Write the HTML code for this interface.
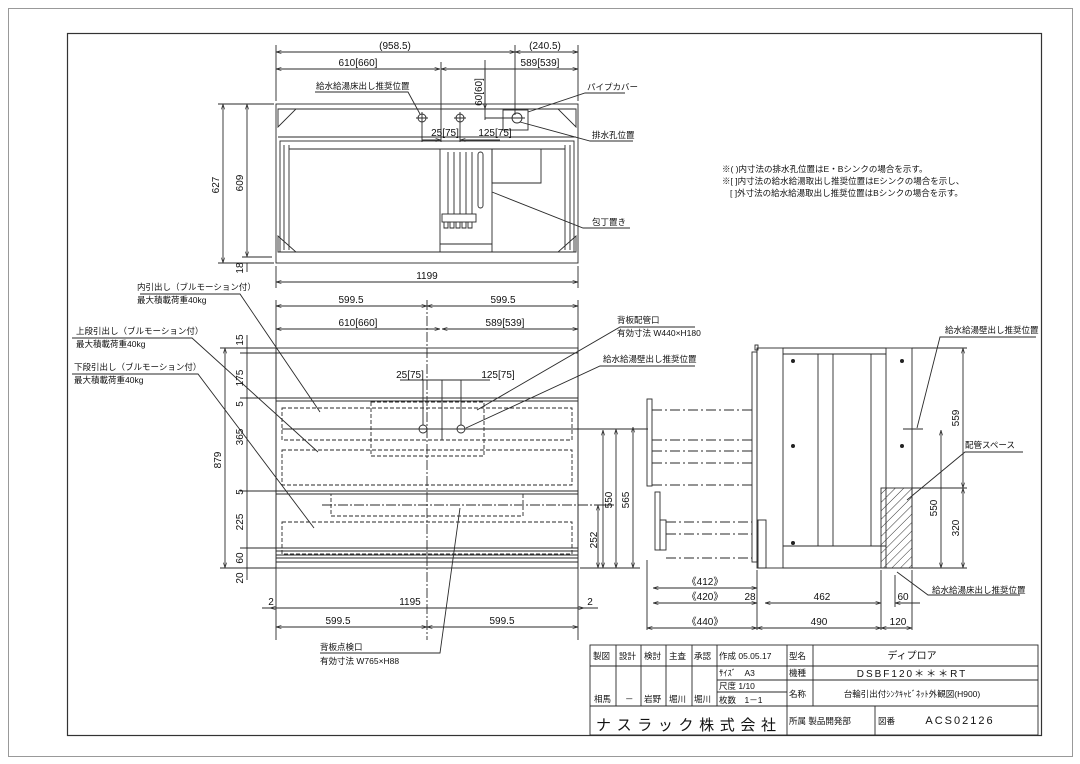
<!DOCTYPE html>
<html><head><meta charset="utf-8"><style>
html,body{margin:0;padding:0;background:#fff;}
svg{display:block;}
text{font-family:"Liberation Sans","Noto Sans CJK JP",sans-serif;fill:#111;}
.d{font-size:10px;}
.j{font-size:8.5px;}
</style></head><body>
<svg width="1080" height="764" viewBox="0 0 1080 764" xmlns="http://www.w3.org/2000/svg">
<defs>
<marker id="a" viewBox="0 0 10 10" refX="10" refY="5" markerWidth="6" markerHeight="6" orient="auto-start-reverse"><path d="M0,2 L10,5 L0,8" fill="none" stroke="#333" stroke-width="1.2"/></marker>
<pattern id="h" width="6" height="6" patternUnits="userSpaceOnUse" patternTransform="rotate(45)"><line x1="0" y1="0" x2="0" y2="6" stroke="#333" stroke-width="1"/></pattern>
</defs>
<rect x="8.5" y="8.5" width="1064" height="748" fill="none" stroke="#999" stroke-width="1"/>
<rect x="67.5" y="33.5" width="974" height="702" fill="none" stroke="#333" stroke-width="1.2"/>

<g stroke="#2a2a2a" stroke-width="0.9" fill="none">
<!-- TOP VIEW -->
<rect x="276" y="104" width="302" height="159"/>
<line x1="278" y1="109" x2="576" y2="109"/>
<line x1="278" y1="137" x2="576" y2="137"/>
<line x1="278" y1="252" x2="576" y2="252"/>
<rect x="280" y="141" width="294" height="111"/>
<line x1="289" y1="149" x2="565" y2="149"/>
<line x1="284" y1="145" x2="284" y2="250"/><line x1="289" y1="145" x2="289" y2="250"/>
<line x1="570" y1="145" x2="570" y2="250"/><line x1="565" y1="145" x2="565" y2="250"/>
<path d="M278,109 L296,109 L278,127 Z M576,109 L558,109 L576,127 Z M278,252 L296,252 L278,236 Z M576,252 L558,252 L576,236 Z"/>
<rect x="440" y="149" width="52" height="103"/>
<line x1="440" y1="244" x2="492" y2="244"/>
<path d="M492,149 L492,183 L541,183 L541,149"/>
<path d="M448,152 v62 M454,152 v62 M460,152 v62 M466,152 v62 M472,152 v62"/>
<rect x="478" y="152" width="5" height="56" rx="2.5"/>
<rect x="442" y="214" width="34" height="8"/>
<path d="M444,222 v6 h4 v-6 M450,222 v6 h4 v-6 M456,222 v6 h4 v-6 M462,222 v6 h4 v-6 M468,222 v6 h4 v-6"/>
<circle cx="422" cy="118" r="4"/><circle cx="460" cy="118" r="4"/><circle cx="517" cy="118" r="5"/>
<rect x="503" y="110" width="25" height="20"/>
<path d="M416,118 h12 M422,112 v12 M454,118 h12 M460,112 v12 M485,118 h40"/>
<line x1="276" y1="52" x2="515" y2="52" marker-start="url(#a)" marker-end="url(#a)"/>
<line x1="515" y1="52" x2="578" y2="52" marker-start="url(#a)" marker-end="url(#a)"/>
<line x1="276" y1="69" x2="440" y2="69" marker-start="url(#a)" marker-end="url(#a)"/>
<line x1="441" y1="69" x2="578" y2="69" marker-start="url(#a)" marker-end="url(#a)"/>
<path d="M276,45 v56 M578,45 v56 M515,45 v70 M441,62 v80 M485,60 v60"/>
<line x1="485" y1="70" x2="485" y2="109" marker-end="url(#a)"/>
<line x1="422" y1="140" x2="441" y2="140" marker-end="url(#a)"/>
<line x1="500" y1="140" x2="460" y2="140" marker-end="url(#a)"/>
<path d="M422,124 v18 M460,124 v18"/>
<line x1="223" y1="104" x2="223" y2="263" marker-start="url(#a)" marker-end="url(#a)"/>
<line x1="247" y1="104" x2="247" y2="257" marker-start="url(#a)" marker-end="url(#a)"/>
<path d="M218,104 h56 M218,263 h56 M242,257 h30"/>
<line x1="247" y1="263" x2="247" y2="272"/>
<line x1="276" y1="282" x2="578" y2="282" marker-start="url(#a)" marker-end="url(#a)"/>
<path d="M276,266 v22 M578,266 v22"/>
<polyline points="315,92 408,92 420,114"/>
<polyline points="625,93 585,93 528,112"/>
<polyline points="633,141 590,141 520,122"/>
<polyline points="630,228 583,228 492,192"/>

<!-- FRONT VIEW -->
<rect x="276" y="348" width="302" height="220"/>
<line x1="276" y1="353" x2="578" y2="353"/>
<line x1="276" y1="398" x2="578" y2="398"/>
<line x1="276" y1="401" x2="578" y2="401"/>
<line x1="276" y1="491" x2="578" y2="491"/>
<line x1="276" y1="494" x2="578" y2="494"/>
<line x1="276" y1="548" x2="578" y2="548"/>
<line x1="276" y1="551" x2="578" y2="551"/>
<line x1="276" y1="555" x2="578" y2="555"/>
<line x1="276" y1="558" x2="578" y2="558"/>
<line x1="276" y1="562" x2="578" y2="562"/>
<g stroke-dasharray="4,2">
<rect x="282" y="408" width="290" height="32"/>
<rect x="282" y="450" width="290" height="35"/>
<rect x="282" y="522" width="290" height="32"/>
<rect x="371" y="402" width="113" height="54"/>
<rect x="331" y="494" width="192" height="22"/>
</g>
<path d="M427,300 V640" stroke-dasharray="10,2,2,2"/>
<path d="M322,505 H612" stroke-dasharray="10,2,2,2"/>
<path d="M282,429 H648"/>
<circle cx="423" cy="429" r="4"/><circle cx="461" cy="429" r="4"/>
<path d="M442,380 v60 M423,380 v45 M461,380 v45 M400,380 h90"/>
<line x1="276" y1="306" x2="427" y2="306" marker-start="url(#a)" marker-end="url(#a)"/>
<line x1="427" y1="306" x2="578" y2="306" marker-start="url(#a)" marker-end="url(#a)"/>
<line x1="276" y1="329" x2="440" y2="329" marker-start="url(#a)" marker-end="url(#a)"/>
<line x1="442" y1="329" x2="578" y2="329" marker-start="url(#a)" marker-end="url(#a)"/>
<path d="M276,300 v340 M578,300 v340"/>
<line x1="225" y1="348" x2="225" y2="568" marker-start="url(#a)" marker-end="url(#a)"/>
<path d="M220,348 h56 M220,568 h56 M240,353 h36 M240,398 h36 M240,491 h36 M240,548 h36"/>
<line x1="247" y1="335" x2="247" y2="580"/>
<line x1="270" y1="608" x2="584" y2="608" marker-start="url(#a)" marker-end="url(#a)"/>
<path d="M262,608 h14 M578,608 h20"/>
<line x1="276" y1="627" x2="427" y2="627" marker-start="url(#a)" marker-end="url(#a)"/>
<line x1="427" y1="627" x2="578" y2="627" marker-start="url(#a)" marker-end="url(#a)"/>
<line x1="603" y1="430" x2="603" y2="568" marker-start="url(#a)" marker-end="url(#a)"/>
<line x1="616" y1="429" x2="616" y2="568" marker-start="url(#a)" marker-end="url(#a)"/>
<line x1="633" y1="427" x2="633" y2="568" marker-start="url(#a)" marker-end="url(#a)"/>
<path d="M580,568 h60 M600,505 h14"/>
<line x1="598" y1="505" x2="598" y2="568" marker-start="url(#a)" marker-end="url(#a)"/>
<polyline points="140,294 240,294 320,412"/>
<polyline points="72,338 192,338 318,452"/>
<polyline points="72,374 198,374 314,528"/>
<polyline points="695,327 620,327 477,410"/>
<polyline points="695,366 600,366 466,428"/>
<polyline points="320,653 440,653 460,508"/>

<!-- SIDE VIEW -->
<rect x="757" y="348" width="155" height="220"/>
<rect x="783" y="348" width="103" height="220"/>
<line x1="783" y1="354" x2="886" y2="354"/>
<line x1="783" y1="546" x2="886" y2="546"/>
<line x1="818" y1="354" x2="818" y2="546"/><line x1="833" y1="354" x2="833" y2="546"/><line x1="871" y1="354" x2="871" y2="546"/>
<rect x="755" y="345" width="3" height="5"/>
<rect x="752" y="352" width="5" height="210"/>
<rect x="758" y="520" width="8" height="48"/>
<rect x="647" y="399" width="5" height="87"/>
<rect x="655" y="492" width="5" height="58"/>
<rect x="660" y="520" width="6" height="30"/>
<g stroke-dasharray="10,3,2,3">
<path d="M652,410 H752 M652,451 H752 M652,463 H752 M652,485 H752 M666,522 H752 M666,534 H752 M666,558 H752 M652,440 H752"/>
</g>
<rect x="881" y="488" width="31" height="80" fill="url(#h)"/>
<path d="M912,348 h55 M912,488 h55 M912,568 h55 M903,429 h20"/>
<line x1="963" y1="348" x2="963" y2="488" marker-start="url(#a)" marker-end="url(#a)"/>
<line x1="963" y1="488" x2="963" y2="568" marker-start="url(#a)" marker-end="url(#a)"/>
<line x1="941" y1="430" x2="941" y2="568" marker-start="url(#a)" marker-end="url(#a)"/>
<path d="M647,560 v70 M757,570 v60 M881,570 v60 M912,570 v60 M895,575 v32"/>
<line x1="653" y1="588" x2="757" y2="588" marker-start="url(#a)" marker-end="url(#a)"/>
<line x1="653" y1="603" x2="757" y2="603" marker-start="url(#a)" marker-end="url(#a)"/>
<line x1="765" y1="603" x2="881" y2="603" marker-start="url(#a)" marker-end="url(#a)"/>
<line x1="895" y1="603" x2="920" y2="603" marker-start="url(#a)"/>
<line x1="647" y1="628" x2="757" y2="628" marker-start="url(#a)" marker-end="url(#a)"/>
<line x1="757" y1="628" x2="881" y2="628" marker-start="url(#a)" marker-end="url(#a)"/>
<line x1="881" y1="628" x2="912" y2="628" marker-start="url(#a)" marker-end="url(#a)"/>
<polyline points="1036,337 940,337 917,428"/>
<polyline points="1023,452 965,452 907,500"/>
<polyline points="1020,595 928,595 897,572"/>

<!-- TITLE BLOCK -->
<rect x="590" y="645" width="448" height="90"/>
<path d="M590,666 H787 M717,680 H1038 M717,692 H787 M590,706 H1038 M787,666 H1038"/>
<path d="M616,645 V706 M641,645 V706 M666,645 V706 M692,645 V706 M717,645 V706 M787,645 V735 M813,645 V706 M875,706 V735"/>
</g>

<g fill="#222">
<circle cx="793" cy="361" r="2"/><circle cx="902" cy="361" r="2"/><circle cx="793" cy="446" r="2"/><circle cx="902" cy="446" r="2"/><circle cx="793" cy="543" r="2"/>
</g>

<g class="d">
<text x="395" y="49" text-anchor="middle">(958.5)</text>
<text x="545" y="49" text-anchor="middle">(240.5)</text>
<text x="358" y="66" text-anchor="middle">610[660]</text>
<text x="540" y="66" text-anchor="middle">589[539]</text>
<text x="482" y="92" transform="rotate(-90 482 92)" text-anchor="middle">60[60]</text>
<text x="445" y="136" text-anchor="middle">25[75]</text>
<text x="495" y="136" text-anchor="middle">125[75]</text>
<text x="219" y="185" transform="rotate(-90 219 185)" text-anchor="middle">627</text>
<text x="243" y="183" transform="rotate(-90 243 183)" text-anchor="middle">609</text>
<text x="243" y="268" transform="rotate(-90 243 268)" text-anchor="middle">18</text>
<text x="427" y="279" text-anchor="middle">1199</text>
<text x="351" y="303" text-anchor="middle">599.5</text>
<text x="503" y="303" text-anchor="middle">599.5</text>
<text x="358" y="326" text-anchor="middle">610[660]</text>
<text x="505" y="326" text-anchor="middle">589[539]</text>
<text x="410" y="378" text-anchor="middle">25[75]</text>
<text x="498" y="378" text-anchor="middle">125[75]</text>
<text x="221" y="460" transform="rotate(-90 221 460)" text-anchor="middle">879</text>
<text x="243" y="340" transform="rotate(-90 243 340)" text-anchor="middle">15</text>
<text x="243" y="378" transform="rotate(-90 243 378)" text-anchor="middle">175</text>
<text x="243" y="404" transform="rotate(-90 243 404)" text-anchor="middle">5</text>
<text x="243" y="437" transform="rotate(-90 243 437)" text-anchor="middle">365</text>
<text x="243" y="492" transform="rotate(-90 243 492)" text-anchor="middle">5</text>
<text x="243" y="522" transform="rotate(-90 243 522)" text-anchor="middle">225</text>
<text x="243" y="558" transform="rotate(-90 243 558)" text-anchor="middle">60</text>
<text x="243" y="578" transform="rotate(-90 243 578)" text-anchor="middle">20</text>
<text x="271" y="605" text-anchor="middle">2</text>
<text x="590" y="605" text-anchor="middle">2</text>
<text x="410" y="605" text-anchor="middle">1195</text>
<text x="338" y="624" text-anchor="middle">599.5</text>
<text x="502" y="624" text-anchor="middle">599.5</text>
<text x="597" y="540" transform="rotate(-90 597 540)" text-anchor="middle">252</text>
<text x="612" y="500" transform="rotate(-90 612 500)" text-anchor="middle">550</text>
<text x="629" y="500" transform="rotate(-90 629 500)" text-anchor="middle">565</text>
<text x="705" y="585" text-anchor="middle">《412》</text>
<text x="705" y="600" text-anchor="middle">《420》</text>
<text x="750" y="600" text-anchor="middle">28</text>
<text x="822" y="600" text-anchor="middle">462</text>
<text x="903" y="600" text-anchor="middle">60</text>
<text x="705" y="625" text-anchor="middle">《440》</text>
<text x="819" y="625" text-anchor="middle">490</text>
<text x="898" y="625" text-anchor="middle">120</text>
<text x="959" y="418" transform="rotate(-90 959 418)" text-anchor="middle">559</text>
<text x="937" y="508" transform="rotate(-90 937 508)" text-anchor="middle">550</text>
<text x="959" y="528" transform="rotate(-90 959 528)" text-anchor="middle">320</text>
</g>
<g class="j">
<text x="316" y="89">給水給湯床出し推奨位置</text>
<text x="587" y="90">パイプカバー</text>
<text x="592" y="138">排水孔位置</text>
<text x="592" y="225">包丁置き</text>
<text x="722" y="172">※( )内寸法の排水孔位置はE・Bシンクの場合を示す。</text>
<text x="722" y="184">※[ ]内寸法の給水給湯取出し推奨位置はEシンクの場合を示し、</text>
<text x="730" y="196">[ ]外寸法の給水給湯取出し推奨位置はBシンクの場合を示す。</text>
<text x="137" y="290">内引出し（ブルモーション付）</text>
<text x="137" y="303">最大積載荷重40kg</text>
<text x="76" y="334">上段引出し（ブルモーション付）</text>
<text x="76" y="347">最大積載荷重40kg</text>
<text x="74" y="370">下段引出し（ブルモーション付）</text>
<text x="74" y="383">最大積載荷重40kg</text>
<text x="617" y="323">背板配管口</text>
<text x="617" y="336">有効寸法 W440×H180</text>
<text x="603" y="362">給水給湯壁出し推奨位置</text>
<text x="945" y="333">給水給湯壁出し推奨位置</text>
<text x="965" y="448">配管スペース</text>
<text x="932" y="593">給水給湯床出し推奨位置</text>
<text x="320" y="650">背板点検口</text>
<text x="320" y="664">有効寸法 W765×H88</text>
<text x="593" y="659">製図</text><text x="619" y="659">設計</text><text x="644" y="659">検討</text><text x="669" y="659">主査</text><text x="694" y="659">承認</text>
<text x="719" y="659">作成 05.05.17</text>
<text x="789" y="659">型名</text>
<text x="912" y="659" text-anchor="middle" font-size="10">ディプロア</text>
<text x="719" y="676">ｻｲｽﾞ　A3</text>
<text x="789" y="676">機種</text>
<text x="912" y="677" text-anchor="middle" font-size="10" letter-spacing="2">DSBF120＊＊＊RT</text>
<text x="719" y="689">尺度 1/10</text>
<text x="719" y="703">枚数　1－1</text>
<text x="789" y="697">名称</text>
<text x="912" y="697" text-anchor="middle">台輪引出付ｼﾝｸｷｬﾋﾞﾈｯﾄ外観図(H900)</text>
<text x="594" y="702">相馬</text><text x="625" y="702">－</text><text x="644" y="702">岩野</text><text x="669" y="702">堀川</text><text x="694" y="702">堀川</text>
<text x="596" y="730" font-size="15" textLength="180" lengthAdjust="spacing">ナスラック株式会社</text>
<text x="789" y="724">所属 製品開発部</text>
<text x="878" y="724">図番</text>
<text x="960" y="724" text-anchor="middle" font-size="11" letter-spacing="2">ACS02126</text>
</g>
</svg>
</body></html>
